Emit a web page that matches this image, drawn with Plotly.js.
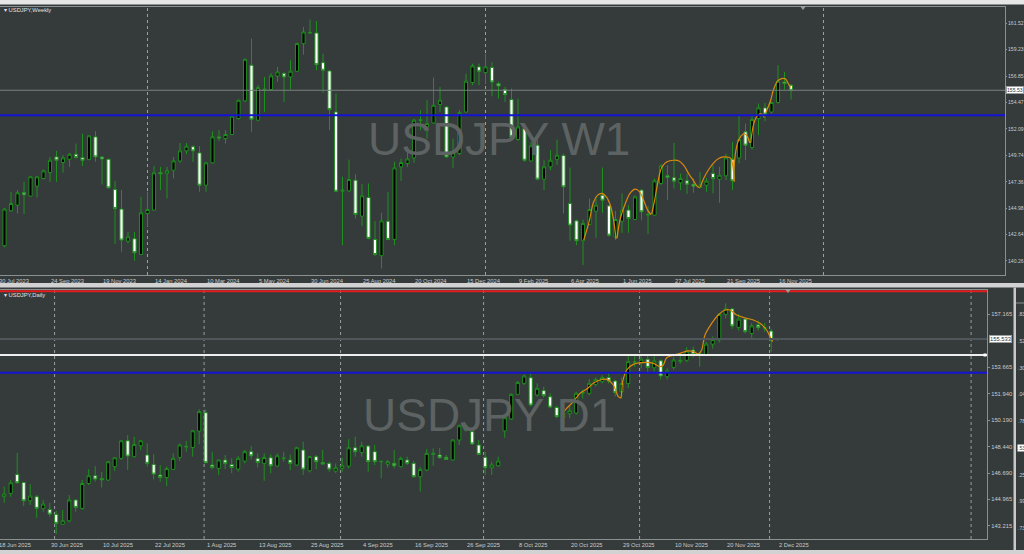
<!DOCTYPE html>
<html><head><meta charset="utf-8">
<script src="https://cdn.plot.ly/plotly-3.0.1.min.js"></script>
<style>html,body{margin:0;padding:0;background:#353a3a;overflow:hidden}#chart{width:1024px;height:554px}</style>
</head><body><div id="chart"></div>
<script>
// ---------- Weekly USDJPY (bar index 1 = week of 6 Aug 2023 ... 122 = week of 30 Nov 2025)
const W_OPEN  = [141.62,144.75,145.25,146.39,146.06,146.95,147.64,148.17,149.57,149.07,149.36,149.81,149.51,149.33,151.36,149.57,149.36,146.65,144.90,142.04,142.25,140.84,144.51,144.81,148.17,148.11,148.38,149.21,150.11,150.47,149.93,147.04,149.04,151.36,151.21,151.57,153.00,154.58,157.77,152.85,155.53,155.59,156.81,157.02,156.72,157.23,159.70,160.65,160.65,158.00,157.26,153.59,146.50,146.53,147.49,144.27,145.94,142.19,140.73,143.82,142.19,148.68,148.98,149.48,152.83,152.25,152.61,154.25,154.04,149.57,149.87,153.59,156.22,157.62,157.11,157.56,156.13,155.59,154.70,151.12,152.11,149.21,150.62,147.58,148.68,149.36,149.69,145.40,143.85,142.07,143.53,144.72,146.15,145.19,142.42,143.82,144.81,143.97,146.60,144.36,144.36,147.19,147.88,147.70,147.25,147.43,147.13,146.83,147.04,148.08,147.58,147.88,149.36,149.48,151.81,150.41,153.00,153.95,153.59,154.43,156.28,155.98];
const W_HIGH  = [145.00,146.45,146.60,147.34,147.85,147.87,148.44,149.57,150.11,149.72,149.93,150.76,151.66,151.51,151.87,149.60,149.42,147.43,146.60,142.87,142.87,146.00,146.45,148.77,148.68,148.68,149.57,150.82,150.82,150.62,150.53,149.13,151.87,151.96,151.96,153.39,154.70,158.36,160.15,156.00,156.72,157.08,157.62,157.17,158.21,159.79,161.19,161.85,161.73,158.81,157.32,155.23,147.79,149.33,148.02,147.13,147.19,143.82,144.57,146.45,149.13,149.42,150.02,153.00,153.74,154.64,156.66,155.83,154.10,151.21,153.74,157.02,157.91,157.91,158.81,158.06,156.28,155.83,155.68,154.79,152.25,150.91,151.06,149.27,150.17,151.12,149.87,148.62,143.97,143.97,145.85,146.00,148.62,145.25,144.75,146.30,145.25,146.15,146.68,145.16,147.64,148.92,148.83,150.82,148.08,148.08,147.64,148.23,147.70,148.83,148.68,149.87,150.91,153.21,152.55,153.21,154.34,154.40,154.49,157.77,157.17,156.07];
const W_LOW   = [141.47,144.66,144.51,144.45,146.00,145.94,147.55,147.34,147.34,148.17,148.68,149.42,148.77,149.27,149.13,147.10,146.74,141.77,141.08,141.83,140.28,140.79,143.32,144.75,146.60,145.85,147.64,149.04,149.81,149.13,146.45,146.45,148.98,151.00,150.76,151.51,152.91,154.49,151.81,152.76,153.59,155.47,156.28,154.49,155.62,157.17,158.72,160.59,157.32,155.29,151.96,146.40,141.68,146.44,144.06,143.38,142.19,140.70,139.59,142.13,141.68,147.43,148.68,149.04,151.96,151.21,152.55,153.59,149.50,148.59,149.72,153.53,155.98,155.98,156.07,154.99,154.79,154.49,151.27,151.00,149.13,149.13,147.49,146.60,148.38,148.83,144.51,142.07,141.68,139.89,143.47,142.34,144.57,142.42,142.13,142.78,142.78,143.91,143.91,142.66,144.30,147.04,145.70,146.74,146.60,146.24,146.36,146.74,146.45,146.30,145.46,147.49,146.60,148.98,149.27,150.23,151.51,152.76,153.45,154.34,155.59,154.70];
const W_CLOSE = [144.90,145.40,146.36,146.18,147.79,147.79,148.32,149.27,149.27,149.48,149.81,149.51,149.27,151.45,149.57,149.39,146.80,144.96,142.13,142.42,141.00,144.57,144.87,148.14,148.05,148.32,149.21,150.11,150.53,150.11,147.04,149.04,151.36,151.27,151.57,153.21,154.64,158.30,152.94,155.77,155.62,156.81,157.17,156.72,157.23,159.70,160.74,160.70,157.82,157.32,153.80,146.50,146.60,147.55,144.42,146.09,142.28,140.84,143.85,142.19,148.59,149.07,149.39,152.85,152.88,152.55,154.19,154.64,149.57,149.93,153.53,156.34,157.71,157.23,157.62,156.28,155.92,155.14,151.36,152.25,149.27,150.56,147.58,148.68,149.27,149.72,146.89,143.47,142.07,143.62,144.87,145.25,145.70,142.57,143.97,144.81,144.06,145.99,144.66,144.42,147.43,148.77,147.73,147.40,147.64,147.13,146.95,147.04,147.40,147.64,147.93,149.48,147.43,151.12,150.62,152.91,153.95,153.39,154.43,156.34,156.13,155.53];
const W_FIRST_INDEX = 1;
const W_TICK_INDEX = [0,8,16,24,32,40,48,56,64,72,80,88,96,104,112,120];
const W_TICK_TEXT  = ["30 Jul 2023","24 Sep 2023","19 Nov 2023","14 Jan 2024","10 Mar 2024","5 May 2024","30 Jun 2024","25 Aug 2024","20 Oct 2024","15 Dec 2024","9 Feb 2025","6 Apr 2025","1 Jun 2025","27 Jul 2025","21 Sep 2025","16 Nov 2025"];
const W_PRICE_TICKS = [161.52,159.16,156.80,154.43,152.07,149.71,147.35,144.98,142.62,140.26];
const W_PRICE_TEXT  = ["161.52","159.23","156.85","154.47","152.09","149.74","147.36","144.98","142.64","140.26"];
const W_YEAR_SEPARATORS = [23,75,127];
const W_BID = 155.53;
const W_BLUE = 153.30;
// orange arcs on weekly chart (bar index, price); null separates arcs
const W_ARC_X = [90.1,90.87,91.64,92.25,92.92,93.59,94.2,94.71,95.07,null,95.23,95.74,96.51,97.28,98.05,98.71,99.33,99.94,100.46,null,100.56,100.97,101.48,102.15,102.92,103.94,104.71,105.48,106.25,107.02,107.64,107.94,null,108.05,108.56,109.33,110.1,110.87,111.64,112.41,112.77,113.07,113.28,null,113.18,113.38,113.79,114.3,114.82,115.33,115.64,null,115.8,116.3,116.9,117.5,117.9,null,118.1,118.87,119.28,120.05,121.07,121.59,121.94];
const W_ARC_Y = [142.13,143.62,145.55,146.15,146.30,146.00,145.25,143.91,142.27,null,142.27,144.06,145.40,146.36,146.68,146.45,145.70,144.81,144.42,null,144.45,145.55,147.19,148.68,149.13,149.27,149.22,148.83,148.08,147.43,146.89,146.83,null,146.89,147.64,148.44,149.04,149.42,149.57,149.54,149.42,148.68,147.34,null,147.49,149.57,150.82,151.42,151.66,151.36,150.82,null,150.8,152.6,153.3,153.4,153.1,null,153.5,154.64,155.53,156.42,156.57,156.13,155.77];

// ---------- Daily USDJPY (bar index 0 = 19 Jun 2025 ... 119 = 2 Dec 2025)
const D_OPEN  = [145.13,145.35,146.60,146.07,144.86,145.13,144.36,144.29,143.96,143.32,143.54,144.91,144.36,146.00,146.51,146.32,146.23,147.11,147.66,148.82,147.77,148.49,147.88,147.26,146.56,146.40,146.93,147.72,148.41,148.38,149.46,150.67,147.22,147.00,147.55,147.26,146.95,147.48,148.10,147.66,147.33,147.70,147.15,147.64,147.55,147.22,148.21,146.84,147.77,147.39,147.33,146.82,147.00,147.15,148.36,148.05,148.47,148.10,147.44,147.28,147.33,147.11,147.55,147.33,146.45,146.89,147.92,147.88,147.73,147.55,148.87,149.81,149.42,148.54,147.73,147.04,147.17,149.47,150.26,151.88,152.61,152.98,151.84,152.13,151.72,151.02,150.36,150.60,150.65,151.96,151.95,152.54,152.72,153.00,152.76,152.06,152.60,154.00,153.97,154.20,153.64,154.10,153.05,153.66,154.04,154.13,154.81,154.52,154.52,155.20,155.47,157.16,157.52,156.30,156.85,155.90,156.46,156.24,156.06,155.50];
const D_HIGH  = [145.79,146.23,148.03,146.12,145.96,145.24,144.91,144.73,144.20,144.25,145.24,144.95,146.23,146.95,147.15,146.78,147.48,147.72,148.87,149.20,149.09,148.87,148.65,147.94,147.22,147.11,147.99,148.65,148.82,149.53,150.89,150.89,148.10,147.59,147.88,147.66,147.81,148.21,148.47,147.99,147.99,147.92,147.99,148.10,147.92,148.43,148.76,147.81,147.88,148.21,147.44,147.33,147.70,148.93,149.09,148.76,148.54,148.54,147.50,147.55,148.21,147.77,147.77,147.50,147.11,148.27,148.32,148.36,147.88,148.93,149.90,149.97,149.59,148.87,148.10,147.44,147.77,150.41,151.95,152.76,153.20,153.27,152.61,152.39,151.95,151.13,150.74,151.10,152.06,152.20,152.90,153.00,153.15,153.30,152.85,153.00,154.45,154.45,154.50,154.48,154.40,154.20,153.60,154.40,154.50,155.00,155.04,154.70,155.35,155.70,157.25,157.89,157.60,157.20,156.95,156.60,156.75,156.60,156.20,155.60];
const D_LOW   = [144.73,145.13,146.00,144.51,144.58,143.74,144.14,143.81,142.66,143.26,143.43,144.14,144.25,145.90,146.12,145.74,146.16,146.84,147.55,146.89,147.72,148.21,147.11,146.27,146.12,145.83,146.89,147.50,148.10,147.77,148.60,147.33,146.93,146.56,146.95,146.67,146.78,147.33,147.59,147.06,146.18,146.67,147.11,147.44,146.89,147.17,146.56,146.73,146.95,147.22,146.78,146.67,146.78,147.00,147.77,147.77,146.78,147.22,146.34,147.04,147.00,147.06,147.22,146.38,145.46,146.82,147.17,147.66,147.55,147.50,148.54,149.42,148.54,147.88,146.56,146.56,147.11,149.02,150.20,151.84,152.50,151.07,151.73,151.66,150.96,150.30,149.42,150.30,150.55,151.60,151.80,152.40,152.60,152.60,151.75,151.60,152.30,153.70,153.60,153.30,153.40,152.85,152.85,153.50,153.90,154.00,154.30,153.70,154.40,154.90,155.30,156.90,156.20,156.10,155.90,155.60,156.10,156.00,154.70,155.40];
const D_CLOSE = [145.30,146.05,146.05,144.86,145.17,144.36,144.64,143.98,143.37,143.54,144.91,144.42,146.00,146.51,146.29,146.25,147.44,147.70,148.82,147.81,148.58,148.82,147.33,146.62,146.40,146.98,147.66,148.54,148.45,149.48,150.74,147.37,147.06,147.55,147.33,147.06,147.66,148.10,147.83,147.39,147.72,147.17,147.83,147.68,147.33,148.36,146.95,147.77,147.44,147.28,146.95,147.04,147.17,148.36,148.10,148.49,147.44,147.44,147.46,147.44,147.17,147.66,147.33,146.45,146.93,147.99,147.99,147.70,147.59,148.87,149.81,149.53,148.61,147.92,147.04,147.22,147.48,150.34,151.88,152.67,153.09,151.18,152.28,151.80,151.04,150.41,150.63,150.80,151.95,152.00,152.61,152.87,153.00,152.76,152.01,152.60,154.04,154.02,154.20,153.66,154.08,153.09,153.42,154.15,154.13,154.74,154.52,154.56,155.20,155.50,157.16,157.52,156.40,156.85,156.02,156.40,156.28,156.28,155.47,155.53];
const D_TICK_INDEX = [-1,7,15,23,31,39,47,55,63,71,79,87,95,103,111,119];
const D_TICK_TEXT  = ["18 Jun 2025","30 Jun 2025","10 Jul 2025","22 Jul 2025","1 Aug 2025","13 Aug 2025","25 Aug 2025","4 Sep 2025","16 Sep 2025","26 Sep 2025","8 Oct 2025","20 Oct 2025","29 Oct 2025","10 Nov 2025","20 Nov 2025","2 Dec 2025"];
const D_PRICE_TICKS = [157.165,153.665,151.940,150.190,148.440,146.690,144.965,143.215];
const D_PRICE_TEXT  = ["157.165","153.665","151.940","150.190","148.440","146.690","144.965","143.215"];
const D_MONTH_SEPARATORS = [8,31,52,74,98,118,149];
const D_BID = 155.533;
const D_RED = 158.69, D_WHITE = 154.48, D_BLUE = 153.31;
const D_CURVE_X = [85.86,86.53,87.56,88.58,89.61,90.63,91.66,92.69,93.71,94.48,94.84,95.15,95.76,96.79,98.84,99.86,100.89,101.4,101.92,103.97,104.99,106.02,106.79,107.3,107.81,108.84,109.86,110.89,111.66,112.68,114.22,115.25,116.27,117.3,117.81,118.22];
const D_CURVE_Y = [150.63,150.96,151.40,151.95,152.23,152.61,152.83,152.87,152.50,151.73,151.66,152.72,153.49,153.86,153.99,153.93,153.71,153.82,154.30,154.59,154.74,154.70,154.54,154.81,155.80,156.57,157.12,157.45,157.45,157.12,156.90,156.79,156.57,156.13,155.69,155.36];
// partially visible third window price labels
const SIDE_TEXT = [".83",".52",".30",".04",".78",".53",".25",".99",".73"];

// ---------- styling
const BG = '#353a3a', GREEN = '#1f8f1f', AX = '#8a8f8f', TXT = '#c9cccc', WM = '#5d6262', ORANGE = '#d98a0a';
const W = 1024, H = 554;
const px = v => v / W, py = v => 1 - v / H;   // pixel -> paper
const FONT = 'Liberation Sans, Arial, sans-serif';
const FS = 5.8, FS_EDGE = 5.1;

const wX = W_OPEN.map((_, i) => i + W_FIRST_INDEX);
const dX = D_OPEN.map((_, i) => i);

const candle = (x, o, h, l, c, xa, ya) => ({
  type: 'candlestick', x: x, open: o, high: h, low: l, close: c, xaxis: xa, yaxis: ya,
  increasing: {line: {color: GREEN, width: 1}, fillcolor: '#000000'},
  decreasing: {line: {color: GREEN, width: 1}, fillcolor: '#ffffff'},
  whiskerwidth: 0, hoverinfo: 'skip', showlegend: false
});

const data = [
  candle(wX, W_OPEN, W_HIGH, W_LOW, W_CLOSE, 'x', 'y'),
  {type: 'scatter', mode: 'lines', x: W_ARC_X, y: W_ARC_Y, xaxis: 'x', yaxis: 'y', connectgaps: false,
   line: {color: ORANGE, width: 1.2, shape: 'spline', smoothing: 1}, hoverinfo: 'skip', showlegend: false},
  candle(dX, D_OPEN, D_HIGH, D_LOW, D_CLOSE, 'x2', 'y2'),
  {type: 'scatter', mode: 'lines', x: D_CURVE_X, y: D_CURVE_Y, xaxis: 'x2', yaxis: 'y2',
   line: {color: ORANGE, width: 1.2, shape: 'spline', smoothing: 0.8}, hoverinfo: 'skip', showlegend: false}
];

// axis geometry (pixel layout of the terminal windows)
const TOPW = {x1: 1005, y0: 7, y1: 275};
const BOTW = {x1: 987, y0: 290, y1: 539};
const wBar = 6.5;
const wRange = [122 - 791 / wBar, 122 + (TOPW.x1 - 791) / wBar];
const dRange = [119 - 777.7 / wBar, 119 + (BOTW.x1 - 777.7) / wBar];

const shapes = [];
const ann = [];
// frames
shapes.push({type: 'rect', xref: 'paper', yref: 'paper', x0: 0, x1: 1, y0: py(0), y1: py(4.5), fillcolor: '#e6e6e6', line: {width: 0}, layer: 'above'});
shapes.push({type: 'rect', xref: 'paper', yref: 'paper', x0: 0, x1: 1, y0: py(283), y1: py(287.5), fillcolor: '#d2d2d2', line: {width: 0}, layer: 'above'});
shapes.push({type: 'rect', xref: 'paper', yref: 'paper', x0: 0, x1: 1, y0: py(550), y1: py(554), fillcolor: '#d2d2d2', line: {width: 0}, layer: 'above'});
shapes.push({type: 'rect', xref: 'paper', yref: 'paper', x0: px(1013.5), x1: px(1016), y0: py(287.5), y1: py(550), fillcolor: '#c8c8c8', line: {width: 0}, layer: 'above'});
shapes.push({type: 'line', xref: 'paper', yref: 'paper', x0: px(1016), x1: 1, y0: py(303), y1: py(303), line: {color: AX, width: 1}, layer: 'above'});

// separators
W_YEAR_SEPARATORS.forEach(v => shapes.push({type: 'line', xref: 'x', yref: 'y domain', x0: v, x1: v, y0: 0, y1: 1, line: {color: '#9a9f9f', width: 1, dash: 'dot'}, layer: 'below'}));
D_MONTH_SEPARATORS.forEach(v => shapes.push({type: 'line', xref: 'x2', yref: 'y2 domain', x0: v - 0.25, x1: v - 0.25, y0: 0, y1: 1, line: {color: '#9a9f9f', width: 1, dash: 'dot'}, layer: 'below'}));

// horizontal levels
const hline = (ya, v, color, width) => ({type: 'line', xref: ya === 'y' ? 'x domain' : 'x2 domain', yref: ya, x0: 0, x1: 1, y0: v, y1: v, line: {color: color, width: width}, layer: 'above'});
shapes.push(hline('y', W_BID, '#7b8080', 1));
shapes.push(hline('y', W_BLUE, '#1414d2', 2));
shapes.push(hline('y2', D_BID, '#50575a', 2));
shapes.push(hline('y2', D_RED, '#e41e1e', 2));
shapes.push(hline('y2', D_WHITE, '#eeeeee', 2));
shapes.push(hline('y2', D_BLUE, '#1414d2', 2));
shapes.push({type: 'rect', xref: 'paper', yref: 'y2', x0: px(BOTW.x1 - 3.5), x1: px(BOTW.x1 - 0.5), y0: D_WHITE - 0.1, y1: D_WHITE + 0.1, fillcolor: '#ffffff', line: {width: 0}, layer: 'above'});
shapes.push({type: 'path', xref: 'paper', yref: 'paper', path: `M ${px(800)} ${py(6)} L ${px(806)} ${py(6)} L ${px(803)} ${py(10)} Z`, fillcolor: '#9a9f9f', line: {width: 0}});
shapes.push({type: 'path', xref: 'paper', yref: 'paper', path: `M ${px(785)} ${py(289)} L ${px(791)} ${py(289)} L ${px(788)} ${py(293)} Z`, fillcolor: '#9a9f9f', line: {width: 0}});

// time-axis labels (labels whose bar lies just left of the visible range are pinned to the edge and shifted)
const timeLabel = (xa, rng, v, text, yPix) => {
  const inside = v >= rng[0];
  return {xref: xa, yref: 'paper', x: inside ? v : rng[0], y: py(yPix), text: text, xanchor: 'left', yanchor: 'middle', showarrow: false,
    xshift: (inside ? 0 : (v - rng[0]) * wBar) - 1, font: {family: FONT, size: FS, color: TXT}};
};
W_TICK_INDEX.forEach((v, i) => ann.push(timeLabel('x', wRange, v, W_TICK_TEXT[i], 280.5)));
D_TICK_INDEX.forEach((v, i) => ann.push(timeLabel('x2', dRange, v, D_TICK_TEXT[i], 545)));
ann.push({xref: 'paper', yref: 'y', x: px(TOPW.x1 + 1), y: W_BID, text: '155.53', xanchor: 'left', yanchor: 'middle', showarrow: false, bgcolor: '#ffffff', bordercolor: '#9a9f9f', borderwidth: 1, borderpad: 0, font: {family: FONT, size: FS_EDGE, color: '#333'}});
ann.push({xref: 'paper', yref: 'y2', x: px(BOTW.x1 + 1.5), y: D_BID, text: '155.533', xanchor: 'left', yanchor: 'middle', showarrow: false, bgcolor: '#ffffff', bordercolor: '#9a9f9f', borderwidth: 1, borderpad: 0, font: {family: FONT, size: FS, color: '#333'}});
ann.push({xref: 'paper', yref: 'paper', x: px(2), y: py(10), text: '▾ USDJPY,Weekly', xanchor: 'left', yanchor: 'middle', showarrow: false, font: {family: FONT, size: FS, color: '#e0e0e0'}});
ann.push({xref: 'paper', yref: 'paper', x: px(2), y: py(295), text: '▾ USDJPY,Daily', xanchor: 'left', yanchor: 'middle', showarrow: false, font: {family: FONT, size: FS, color: '#e0e0e0'}});
ann.push({xref: 'paper', yref: 'paper', x: px(499), y: py(139), text: 'USDJPY W1', xanchor: 'center', yanchor: 'middle', showarrow: false, font: {family: FONT, size: 46, color: WM}});
ann.push({xref: 'paper', yref: 'paper', x: px(489), y: py(415), text: 'USDJPY D1', xanchor: 'center', yanchor: 'middle', showarrow: false, font: {family: FONT, size: 46, color: WM}});
SIDE_TEXT.forEach((t, i) => ann.push({xref: 'paper', yref: 'paper', x: px(1016.5), y: py(314.3 + i * 26.7), text: t, xanchor: 'left', yanchor: 'middle', showarrow: false,
  bgcolor: t === '.53' ? '#ffffff' : 'rgba(0,0,0,0)', borderpad: 0, font: {family: FONT, size: FS_EDGE, color: t === '.53' ? '#333' : TXT}}));

const wY = p => 161.52 - (p - 23.3) / 11.18;
const dY = p => 157.165 - (p - 314.3) / 15.155;

const axBase = {showgrid: false, zeroline: false, showline: true, linecolor: AX, linewidth: 1, mirror: true, fixedrange: true};
const layout = {
  width: W, height: H, margin: {l: 0, r: 0, t: 0, b: 0},
  paper_bgcolor: BG, plot_bgcolor: BG, showlegend: false, boxgap: 0.3,
  xaxis: Object.assign({}, axBase, {domain: [0, px(TOPW.x1)], range: wRange, showticklabels: false, ticks: '', anchor: 'y', rangeslider: {visible: false}}),
  yaxis: Object.assign({}, axBase, {domain: [py(TOPW.y1), py(TOPW.y0)], range: [wY(TOPW.y1), wY(TOPW.y0)], side: 'right', anchor: 'x',
    tickvals: W_PRICE_TICKS, ticktext: W_PRICE_TEXT, ticks: 'outside', ticklen: 1, ticklabelstandoff: 0, tickcolor: AX, tickfont: {family: FONT, size: FS_EDGE, color: TXT}}),
  xaxis2: Object.assign({}, axBase, {domain: [0, px(BOTW.x1)], range: dRange, showticklabels: false, ticks: '', anchor: 'y2', rangeslider: {visible: false}}),
  yaxis2: Object.assign({}, axBase, {domain: [py(BOTW.y1), py(BOTW.y0)], range: [dY(BOTW.y1), dY(BOTW.y0)], side: 'right', anchor: 'x2',
    tickvals: D_PRICE_TICKS, ticktext: D_PRICE_TEXT, ticks: 'outside', ticklen: 2, ticklabelstandoff: 0, tickcolor: AX, tickfont: {family: FONT, size: FS, color: TXT}}),
  shapes: shapes, annotations: ann
};
Plotly.newPlot('chart', data, layout, {staticPlot: true, displayModeBar: false});
</script></body></html>
